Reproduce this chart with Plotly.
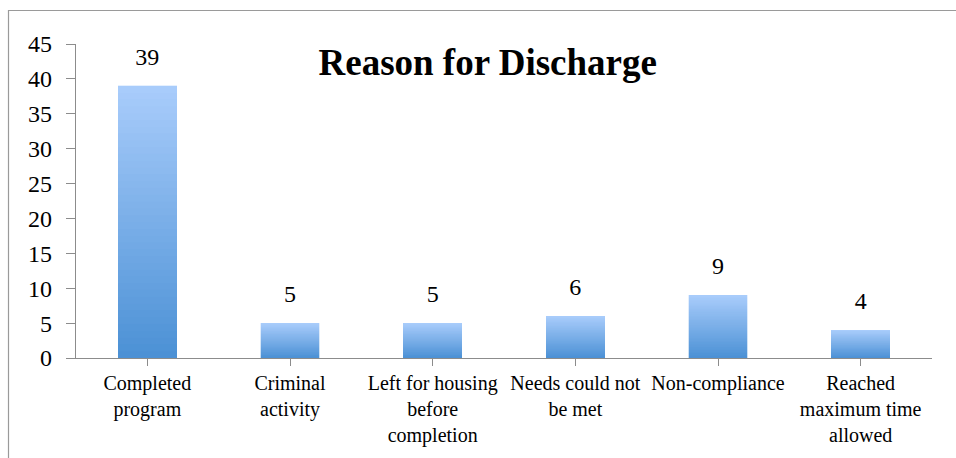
import plotly.graph_objects as go

categories = ["Completed<br>program", "Criminal<br>activity", "Left for housing<br>before<br>completion",
              "Needs could not<br>be met", "Non-compliance", "Reached<br>maximum time<br>allowed"]
values = [39, 5, 5, 6, 9, 4]
title_text = "Reason for Discharge"
y_ticks = [0, 5, 10, 15, 20, 25, 30, 35, 40, 45]

SERIF = "Liberation Serif, Times New Roman, serif"
top_rgb = (168, 204, 251)
bot_rgb = (76, 145, 213)
N = 40

fig = go.Figure()
for i in range(N):
    t = i / (N - 1)
    c = tuple(round(bot_rgb[k] + (top_rgb[k] - bot_rgb[k]) * t) for k in range(3))
    fig.add_trace(go.Bar(
        x=list(range(len(categories))), y=[v / N for v in values],
        marker=dict(color="rgb(%d,%d,%d)" % c, line=dict(width=0.3, color="rgb(%d,%d,%d)" % c)),
        showlegend=False, hoverinfo="skip"))

fig.add_trace(go.Scatter(
    x=list(range(len(categories))), y=values, mode="markers+text",
    marker=dict(size=22, color="rgba(0,0,0,0)"),
    text=[str(v) for v in values], textposition="top center",
    textfont=dict(family=SERIF, size=24, color="black"),
    showlegend=False, hoverinfo="skip"))

fig.update_layout(
    width=956, height=458,
    margin=dict(l=76, r=24, t=44, b=100),
    paper_bgcolor="white", plot_bgcolor="white",
    barmode="stack", bargap=0.59,
    font=dict(family=SERIF, color="black"),
    title=dict(text="<b>%s</b>" % title_text, x=0.481, xref="paper", xanchor="center",
               y=1.0 - 62 / 458, yanchor="middle",
               font=dict(family=SERIF, size=37, color="black")),
    shapes=[dict(type="rect", xref="paper", yref="paper",
                 x0=(8.5 - 76) / 856, x1=(970 - 76) / 856,
                 y0=(358 - 470) / 314, y1=(358 - 10.5) / 314,
                 line=dict(color="#9a9a9a", width=1.2), fillcolor="rgba(0,0,0,0)", layer="below")],
)
fig.update_xaxes(
    tickmode="array", tickvals=list(range(len(categories))), ticktext=categories,
    range=[-0.5, len(categories) - 0.5],
    showline=True, linecolor="#8c8c8c", linewidth=1.2,
    ticks="outside", tickson="boundaries", ticklen=7, tickcolor="#8c8c8c",
    tickfont=dict(family=SERIF, size=20, color="black"),
    showgrid=False, zeroline=False)
fig.update_yaxes(
    range=[0, 45], tickvals=y_ticks,
    showline=True, linecolor="#8c8c8c", linewidth=1.2,
    ticks="outside", ticklen=9, tickcolor="#8c8c8c", ticklabelstandoff=9,
    tickfont=dict(family=SERIF, size=24, color="black"),
    showgrid=False, zeroline=False)

fig.write_html("out.html")
